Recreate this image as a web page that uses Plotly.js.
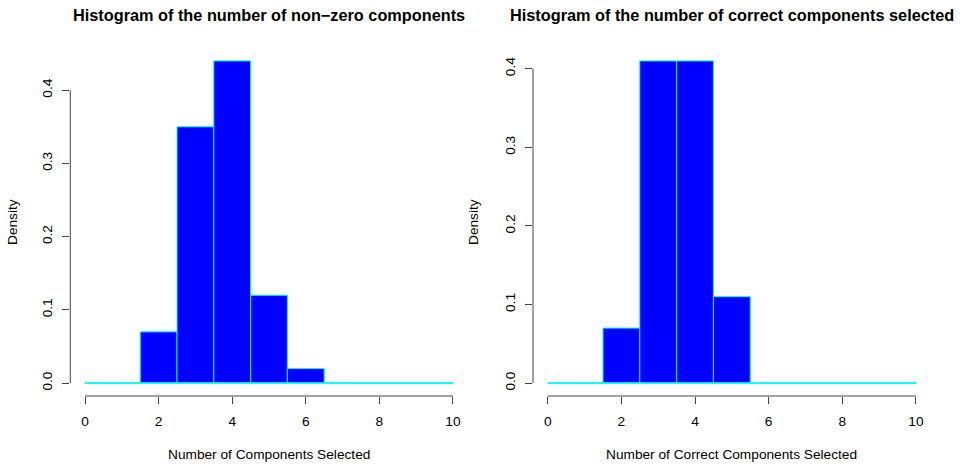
<!DOCTYPE html>
<html>
<head>
<meta charset="utf-8">
<script src="https://cdn.plot.ly/plotly-3.0.1.min.js"></script>
<style>html,body{margin:0;padding:0;background:#fff;}#chart{width:963px;height:468px;}</style>
</head>
<body>
<div id="chart"></div>
<script>
// Bin edges (histogram breaks, clipped to 0..10)
var binEdges = [0, 0.5, 1.5, 2.5, 3.5, 4.5, 5.5, 6.5, 7.5, 8.5, 9.5, 10];
// Densities per bin
var densNonZero = [0, 0, 0.07, 0.35, 0.44, 0.12, 0.02, 0, 0, 0, 0];
var densCorrect = [0, 0, 0.07, 0.41, 0.41, 0.11, 0, 0, 0, 0, 0];
var xTicks = [0, 2, 4, 6, 8, 10];
var yTicks = [0, 0.1, 0.2, 0.3, 0.4];
var yTickText = ["0.0", "0.1", "0.2", "0.3", "0.4"];
var titles = ["Histogram of the number of non\u2212zero components", "Histogram of the number of correct components selected"];
var xTitles = ["Number of Components Selected", "Number of Correct Components Selected"];
var yTitle = "Density";

var FONT = "Liberation Sans, Arial, Helvetica, sans-serif";
var FS = 13.7, FST = 16.3;
var W = 963, H = 468;
var xDomains = [[70.3 / W, 467.7 / W], [533 / W, 930.7 / W]];
var yDomain = [(H - 396) / H, (H - 48) / H];
var yLabelX = [12 / W, 473 / W];

function centers(e) { var c = []; for (var i = 0; i < e.length - 1; i++) c.push((e[i] + e[i + 1]) / 2); return c; }
function widths(e) { var w = []; for (var i = 0; i < e.length - 1; i++) w.push(e[i + 1] - e[i]); return w; }

var series = [densNonZero, densCorrect];
var traces = [];
var layout = {
  width: W, height: H,
  margin: {l: 0, r: 0, t: 0, b: 0},
  paper_bgcolor: "#fff", plot_bgcolor: "#fff",
  showlegend: false,
  font: {family: FONT, size: FS, color: "#000"},
  bargap: 0,
  annotations: [], shapes: []
};

series.forEach(function (d, k) {
  var xa = k === 0 ? "x" : "x2", ya = k === 0 ? "y" : "y2";
  // zero baseline (outline of empty bins)
  traces.push({
    type: "scatter", mode: "lines", x: [binEdges[0], binEdges[binEdges.length - 1]], y: [0, 0],
    xaxis: xa, yaxis: ya, line: {color: "#00FFFF", width: 1.5}, hoverinfo: "skip"
  });
  traces.push({
    type: "bar", x: centers(binEdges), y: d, width: widths(binEdges),
    xaxis: xa, yaxis: ya,
    marker: {color: "#0000FF", line: {color: "#00FFFF", width: 1}}
  });
  var mx = Math.max.apply(null, d);
  var axX = {
    domain: xDomains[k], range: [-0.4, 10.4], anchor: ya,
    tickvals: xTicks, ticktext: xTicks.map(String),
    ticks: "outside", ticklen: 7, tickcolor: "#444", tickwidth: 1,
    showgrid: false, zeroline: false, showline: false,
    tickfont: {family: FONT, size: FS, color: "#000"},
    ticklabelstandoff: 6
  };
  var axY = {
    domain: yDomain, range: [-0.04 * mx, 1.04 * mx], anchor: xa,
    tickvals: yTicks, ticktext: yTickText, tickangle: -90,
    ticks: "outside", ticklen: 7, tickcolor: "#444", tickwidth: 1,
    showgrid: false, zeroline: false, showline: false,
    tickfont: {family: FONT, size: FS, color: "#000"},
    ticklabelstandoff: 5
  };
  layout[k === 0 ? "xaxis" : "xaxis2"] = axX;
  layout[k === 0 ? "yaxis" : "yaxis2"] = axY;
  // R-style axis lines spanning first..last tick
  layout.shapes.push({
    type: "line", xref: xa, yref: "paper",
    x0: xTicks[0], x1: xTicks[xTicks.length - 1], y0: yDomain[0], y1: yDomain[0],
    line: {color: "#444", width: 1}
  });
  layout.shapes.push({
    type: "line", xref: "paper", yref: ya,
    x0: xDomains[k][0], x1: xDomains[k][0], y0: yTicks[0], y1: yTicks[yTicks.length - 1],
    line: {color: "#444", width: 1}
  });
  var cx = (xDomains[k][0] + xDomains[k][1]) / 2;
  layout.annotations.push({
    text: "<b>" + titles[k] + "</b>", xref: "paper", yref: "paper", x: cx, y: (H - 15) / H,
    xanchor: "center", yanchor: "middle", showarrow: false,
    font: {family: FONT, size: FST, color: "#000"}
  });
  layout.annotations.push({
    text: xTitles[k], xref: "paper", yref: "paper", x: cx, y: (H - 454) / H,
    xanchor: "center", yanchor: "middle", showarrow: false,
    font: {family: FONT, size: FS, color: "#000"}
  });
  layout.annotations.push({
    text: yTitle, xref: "paper", yref: "paper", x: yLabelX[k], y: (yDomain[0] + yDomain[1]) / 2,
    xanchor: "center", yanchor: "middle", showarrow: false, textangle: -90,
    font: {family: FONT, size: FS, color: "#000"}
  });
});

Plotly.newPlot("chart", traces, layout, {staticPlot: true, displayModeBar: false});
</script>
</body>
</html>
